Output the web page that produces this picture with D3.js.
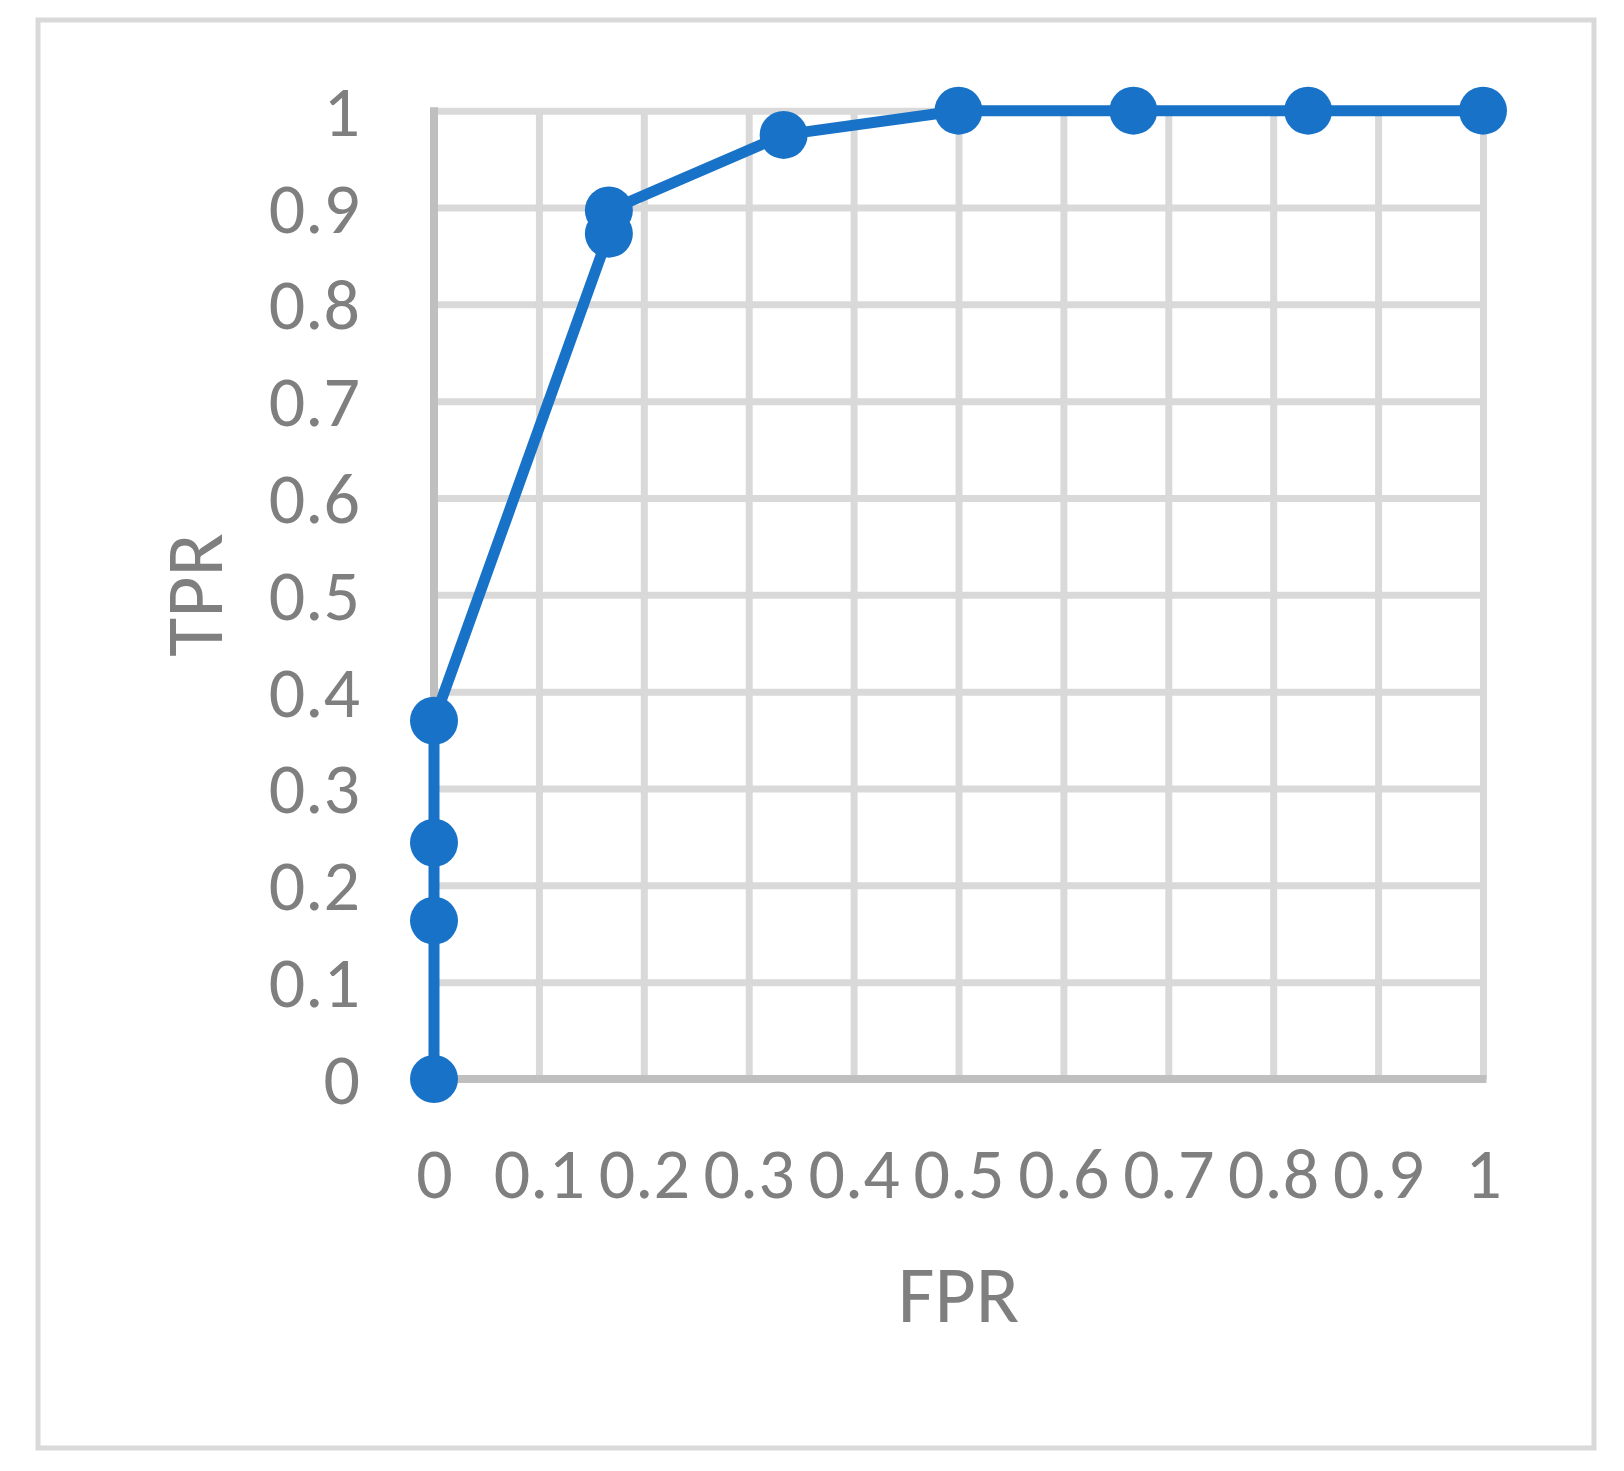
<!DOCTYPE html>
<html>
<head>
<meta charset="utf-8">
<script src="https://cdn.jsdelivr.net/npm/d3@7"></script>
<style>
  html, body { margin: 0; padding: 0; background: #fff; }
  svg { display: block; }
  text { font-family: Carlito, "Liberation Sans Narrow", "Liberation Sans", sans-serif; fill: #7f7f7f; }
</style>
</head>
<body>
<svg id="chart" width="1624" height="1471"></svg>
<script>
const fpr = [0, 0, 0, 0, 0.1667, 0.1667, 0.3333, 0.5, 0.6667, 0.8333, 1];
const tpr = [0, 0.1635, 0.244, 0.370, 0.873, 0.897, 0.975, 1, 1, 1, 1];
const xTicks = [0, 0.1, 0.2, 0.3, 0.4, 0.5, 0.6, 0.7, 0.8, 0.9, 1];
const yTicks = [0, 0.1, 0.2, 0.3, 0.4, 0.5, 0.6, 0.7, 0.8, 0.9, 1];
const xTickLabels = ["0", "0.1", "0.2", "0.3", "0.4", "0.5", "0.6", "0.7", "0.8", "0.9", "1"];
const yTickLabels = ["0", "0.1", "0.2", "0.3", "0.4", "0.5", "0.6", "0.7", "0.8", "0.9", "1"];
const xTitle = "FPR";
const yTitle = "TPR";

const svg = d3.select("#chart");
const L = 434, R = 1483, T = 110.7, B = 1079;
const x = d3.scaleLinear().domain([0, 1]).range([L, R]);
const y = d3.scaleLinear().domain([0, 1]).range([B, T]);

// outer border
svg.append("rect").attr("x", 38).attr("y", 20).attr("width", 1556).attr("height", 1428)
  .attr("fill", "none").attr("stroke", "#d9d9d9").attr("stroke-width", 5);

// horizontal gridlines + y labels
const yAxis = d3.axisLeft(y).tickValues(yTicks).tickSize(-(R - L)).tickPadding(74)
  .tickFormat((d, i) => yTickLabels[i]);
const gy = svg.append("g").attr("transform", `translate(${L},0)`).call(yAxis);
gy.select(".domain").remove();
gy.selectAll(".tick line").attr("stroke", "#d9d9d9").attr("stroke-width", 7);
gy.selectAll(".tick text").attr("font-size", 72).attr("fill", "#7f7f7f")
  .attr("font-family", null).attr("dy", "0.34em");

// vertical gridlines + x labels
const xAxis = d3.axisBottom(x).tickValues(xTicks).tickSize(-(B - T)).tickPadding(0)
  .tickFormat((d, i) => xTickLabels[i]);
const gx = svg.append("g").attr("transform", `translate(0,${B})`).call(xAxis);
gx.select(".domain").remove();
gx.selectAll(".tick line").attr("stroke", "#d9d9d9").attr("stroke-width", 7);
gx.selectAll(".tick text").attr("font-size", 72).attr("fill", "#7f7f7f")
  .attr("font-family", null).attr("y", 119).attr("dy", 0);

// axis lines
svg.append("line").attr("x1", x(0)).attr("x2", x(0)).attr("y1", y(1) - 3.5).attr("y2", y(0) + 3.5)
  .attr("stroke", "#bfbfbf").attr("stroke-width", 8);
svg.append("line").attr("x1", x(0) - 4).attr("x2", x(1) + 3.5).attr("y1", y(0)).attr("y2", y(0))
  .attr("stroke", "#bfbfbf").attr("stroke-width", 8);

// titles
svg.append("text").attr("x", (L + R) / 2).attr("y", 1322).attr("text-anchor", "middle")
  .attr("font-size", 80).text(xTitle);
svg.append("text").attr("transform", `translate(222,${(T + B) / 2}) rotate(-90)`)
  .attr("text-anchor", "middle").attr("font-size", 80).text(yTitle);

// series
const pts = fpr.map((v, i) => [v, tpr[i]]);
svg.append("path").datum(pts)
  .attr("d", d3.line().x(d => x(d[0])).y(d => y(d[1])))
  .attr("fill", "none").attr("stroke", "#1873c8").attr("stroke-width", 11)
  .attr("stroke-linejoin", "round");
svg.append("g").selectAll("circle").data(pts).join("circle")
  .attr("cx", d => x(d[0])).attr("cy", d => y(d[1])).attr("r", 24)
  .attr("fill", "#1873c8");
</script>
</body>
</html>
